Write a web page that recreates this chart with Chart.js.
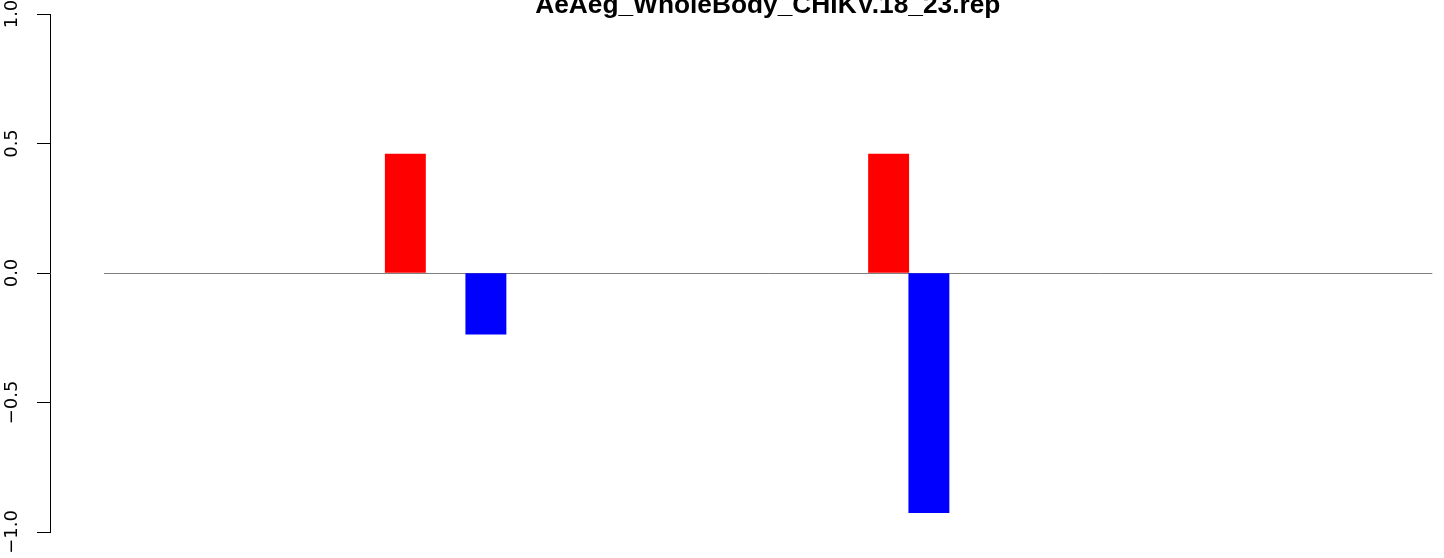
<!DOCTYPE html>
<html>
<head>
<meta charset="utf-8">
<title>AeAeg_WholeBody_CHIKV.18_23.rep</title>
<script src="https://cdn.jsdelivr.net/npm/chart.js@4"></script>
<style>
    html, body { margin: 0; padding: 0; background: #fff; }
    #wrap { width: 1444px; height: 558px; position: relative; }
</style>
</head>
<body>
<div id="wrap"><canvas id="myChart" width="1444" height="558"></canvas></div>
<script>
// 圖表標題
const chartTitle = 'AeAeg_WholeBody_CHIKV.18_23.rep';

// 33 個類別（位置）
const categories = ['1', '2', '3', '4', '5', '6', '7', '8', '9', '10',
                    '11', '12', '13', '14', '15', '16', '17', '18', '19', '20',
                    '21', '22', '23', '24', '25', '26', '27', '28', '29', '30',
                    '31', '32', '33'];

// 紅色系列（正值）
const redValues = [null, null, null, null, null, null, null, 0.459, null, null,
                   null, null, null, null, null, null, null, null, null, 0.459,
                   null, null, null, null, null, null, null, null, null, null,
                   null, null, null];

// 藍色系列（負值）
const blueValues = [null, null, null, null, null, null, null, null, null, -0.236,
                    null, null, null, null, null, null, null, null, null, null,
                    -0.925, null, null, null, null, null, null, null, null, null,
                    null, null, null];

// Y 軸刻度
const yTickValues = [-1, -0.5, 0, 0.5, 1];

// 標題外掛：畫在圖表區域上方，置中
const titlePlugin = {
    id: 'rTitle',
    afterDraw(chart) {
        const { ctx, chartArea } = chart;
        ctx.save();
        ctx.font = 'bold 26.3px "Liberation Sans", Arial, sans-serif';
        ctx.fillStyle = '#000';
        ctx.textAlign = 'center';
        ctx.textBaseline = 'alphabetic';
        ctx.fillText(chartTitle, (chartArea.left + chartArea.right) / 2, 13);
        ctx.restore();
    }
};

let data = {
    labels: categories,
    datasets: [
        {
            label: 'up',
            data: redValues,
            backgroundColor: '#ff0000',
            borderWidth: 0
        },
        {
            label: 'down',
            data: blueValues,
            backgroundColor: '#0000ff',
            borderWidth: 0
        }
    ]
};

let options = {
    responsive: false,
    animation: false,
    devicePixelRatio: 1,
    layout: {
        padding: { top: 14, right: 11.7, bottom: 26, left: 0 }
    },
    datasets: {
        bar: {
            grouped: false,
            barPercentage: 1,
            categoryPercentage: 1
        }
    },
    plugins: {
        legend: { display: false },
        tooltip: { enabled: false },
        title: { display: false }
    },
    scales: {
        x: {
            display: false
        },
        y: {
            type: 'linear',
            position: 'left',
            weight: 1,
            min: -1,
            max: 1,
            afterBuildTicks: (scale) => {
                scale.ticks = yTickValues.map(v => ({ value: v }));
            },
            afterFit: (scale) => {
                scale.width = 50;
                scale.paddingTop = 0;
                scale.paddingBottom = 0;
            },
            border: { display: true, color: '#000', width: 1 },
            grid: {
                drawOnChartArea: true,
                color: (c) => (c.tick && c.tick.value === 0) ? '#808080' : 'rgba(0,0,0,0)',
                tickColor: '#000',
                tickLength: 13,
                lineWidth: 1
            },
            ticks: {
                minRotation: 90,
                maxRotation: 90,
                crossAlign: 'center',
                padding: 2.8,
                color: '#000',
                autoSkip: false,
                font: { family: '"DejaVu Sans", sans-serif', size: 18 },
                callback: (v) => Number(v).toFixed(1).replace('-', '\u2212')
            }
        },
        // 空白間隔軸，讓 Y 軸與繪圖區分開
        yGap: {
            type: 'linear',
            position: 'left',
            weight: 0,
            min: -1,
            max: 1,
            afterFit: (scale) => {
                scale.width = 53.3;
                scale.paddingTop = 0;
                scale.paddingBottom = 0;
            },
            border: { display: false },
            grid: { display: false },
            ticks: { display: false }
        }
    }
};

let ctx = document.getElementById('myChart').getContext('2d');
window.myChart = new Chart(ctx, {
    type: 'bar',
    data: data,
    options: options,
    plugins: [titlePlugin]
});
</script>
</body>
</html>
